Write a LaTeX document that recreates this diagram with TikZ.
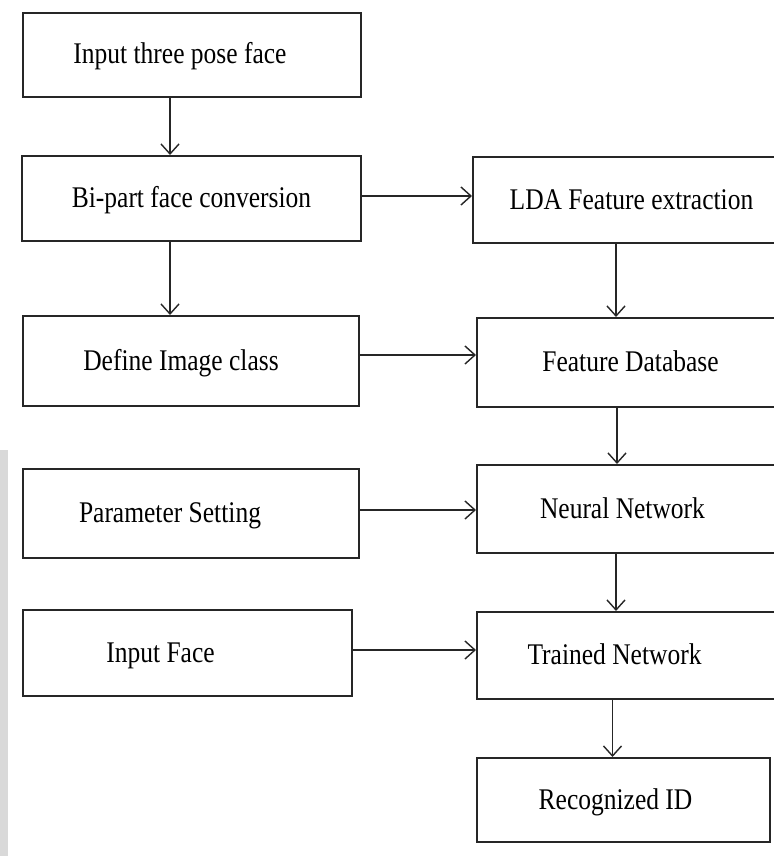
\documentclass[tikz,border=0pt]{standalone}
\usepackage{fontspec}
\setmainfont{Liberation Serif}[FakeStretch=0.85]
\usetikzlibrary{arrows.meta,calc,positioning}

\begin{document}
\begin{tikzpicture}[x=0.5pt,y=-0.5pt,
  box/.style={draw=black!85,line width=1pt,inner sep=0pt,text height=1.1em,text depth=0.2em,font=\fontsize{15}{18}\selectfont},
  arr/.style={draw=black!85,line width=0.7pt,-{Straight Barb[length=5pt,width=9pt,line width=0.7pt]}}]
\useasboundingbox (0,0) rectangle (774,856);
\clip (0,0) rectangle (774,856);
\fill[white] (0,0) rectangle (774,856);
\fill[black!15] (0,450) rectangle (8,856);
% left column
\node[box,minimum width=169pt,minimum height=42pt] (pose) at (192,55) {\hspace*{-12pt}Input three pose face};
\node[box,minimum width=169.5pt,minimum height=42.5pt] (bipart) at (191.5,198.5) {Bi-part face conversion};
\node[box,minimum width=168pt,minimum height=45pt] (define) at (191,361) {\hspace*{-10pt}Define Image class};
\node[box,minimum width=168pt,minimum height=44.5pt] (param) at (191,513.5) {\hspace*{-21pt}Parameter Setting};
\node[box,minimum width=164.5pt,minimum height=43pt] (inface) at (187.5,653) {\hspace*{-27pt}Input Face};
% right column
\node[box,minimum width=158.5pt,minimum height=43pt] (lda) at (631.5,200) {LDA Feature extraction};
\node[box,minimum width=156.5pt,minimum height=44.5pt] (fdb) at (633.5,362.5) {\hspace*{-3pt}Feature Database};
\node[box,minimum width=156.5pt,minimum height=44pt] (nn) at (633.5,509) {\hspace*{-11pt}Neural Network};
\node[box,minimum width=156.5pt,minimum height=43.5pt] (tn) at (633.5,655.5) {\hspace*{-19pt}Trained Network};
\node[box,minimum width=146.5pt,minimum height=42pt] (rid) at (623.5,800) {\hspace*{-8pt}Recognized ID};
% connectors
\draw[arr] ([xshift=-11pt]pose.south) -- ([xshift=-11pt]pose.south |- bipart.north);
\draw[arr] ([xshift=-10.75pt]bipart.south) -- ([xshift=-10.75pt]bipart.south |- define.north);
\draw[arr] ([yshift=1.25pt]bipart.east) -- ([yshift=1.25pt]bipart.east -| lda.west);
\draw[arr] ([yshift=3pt]define.east) -- ([yshift=3pt]define.east -| fdb.west);
\draw[arr] ([yshift=1.75pt]param.east) -- ([yshift=1.75pt]param.east -| nn.west);
\draw[arr] ([yshift=1.5pt]inface.east) -- ([yshift=1.5pt]inface.east -| tn.west);
\draw[arr] ([xshift=-7.75pt]lda.south) -- ([xshift=-7.75pt]lda.south |- fdb.north);
\draw[arr] ([xshift=-8.25pt]fdb.south) -- ([xshift=-8.25pt]fdb.south |- nn.north);
\draw[arr] ([xshift=-8.75pt]nn.south) -- ([xshift=-8.75pt]nn.south |- tn.north);
\draw[arr] ([xshift=-10.5pt]tn.south) -- ([xshift=-10.5pt]tn.south |- rid.north);
\end{tikzpicture}
\end{document}
